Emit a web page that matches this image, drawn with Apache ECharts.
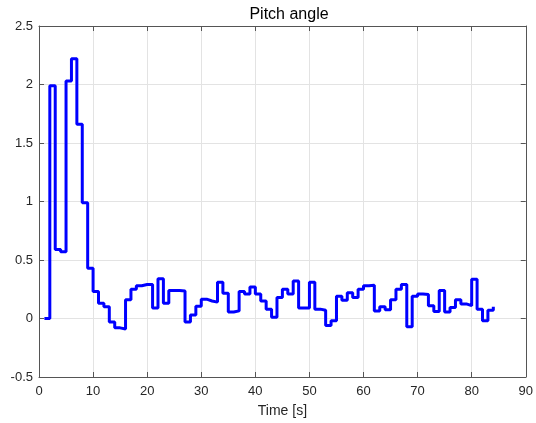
<!DOCTYPE html>
<html>
<head>
<meta charset="utf-8">
<script src="https://cdn.jsdelivr.net/npm/echarts@6/dist/echarts.min.js"></script>
<style>
html,body{margin:0;padding:0;background:#fff;}
#chart{width:536px;height:423px;}
</style>
</head>
<body>
<div id="chart"></div>
<script>
var timeSec = [1,2,3,4,5,6,7,8,9,10,11,12,13,14,15,16,17,18,19,20,
  21,22,23,24,25,26,27,28,29,30,31,32,33,34,35,36,37,38,39,40,
  41,42,43,44,45,46,47,48,49,50,51,52,53,54,55,56,57,58,59,60,
  61,62,63,64,65,66,67,68,69,70,71,72,73,74,75,76,77,78,79,80,
  81,82,83,84];
var pitch = [0,1.99,0.59,0.57,2.03,2.22,1.66,0.99,0.43,0.23,0.13,0.10,-0.03,-0.08,-0.09,0.16,0.25,0.28,0.29,0.29,
  0.09,0.34,0.13,0.24,0.24,0.235,-0.03,0.03,0.105,0.165,0.15,0.14,0.31,0.215,0.055,0.065,0.23,0.21,0.27,0.21,
  0.15,0.08,0.01,0.18,0.25,0.21,0.32,0.09,0.09,0.31,0.08,0.07,-0.06,-0.02,0.19,0.155,0.22,0.18,0.25,0.28,
  0.285,0.065,0.10,0.075,0.16,0.25,0.29,-0.07,0.19,0.21,0.205,0.11,0.06,0.24,0.055,0.095,0.16,0.125,0.11,0.335,
  0.08,-0.02,0.07,0.10];
var titleText = "Pitch angle";
var xName = "Time [s]";

var seriesData = timeSec.map(function(t, i){ return [t, pitch[i]]; });
var font = "'Liberation Sans', Arial, Helvetica, sans-serif";
var axisCol = '#555555';
var gridCol = '#e3e3e3';

var chart = echarts.init(document.getElementById('chart'), null, {renderer:'canvas'});
chart.setOption({
  animation: false,
  backgroundColor: '#ffffff',
  title: {
    text: titleText, left: 284, top: 2, textAlign: 'center',
    textStyle: {fontFamily: font, fontSize: 16, fontWeight: 'normal', color: '#000000'}
  },
  grid: {left: 39, right: 7, top: 26, bottom: 42, containLabel: false},
  xAxis: [{
    type: 'value', min: 0, max: 90, interval: 10, position: 'bottom',
    name: xName, nameLocation: 'middle', nameGap: 27,
    nameTextStyle: {fontFamily: font, fontSize: 14, color: '#262626'},
    axisLine: {show: true, onZero: false, lineStyle: {color: axisCol, width: 1}},
    axisTick: {show: true, inside: true, length: 5, lineStyle: {color: axisCol}},
    axisLabel: {fontFamily: font, fontSize: 13, color: '#262626', margin: 8},
    splitLine: {show: true, lineStyle: {color: gridCol, width: 1}}
  },{
    type: 'value', min: 0, max: 90, interval: 10, position: 'top',
    axisLine: {show: true, onZero: false, lineStyle: {color: axisCol, width: 1}},
    axisTick: {show: true, inside: true, length: 5, lineStyle: {color: axisCol}},
    axisLabel: {show: false},
    splitLine: {show: false}
  }],
  yAxis: [{
    type: 'value', min: -0.5, max: 2.5, interval: 0.5, position: 'left',
    axisLine: {show: true, onZero: false, lineStyle: {color: axisCol, width: 1}},
    axisTick: {show: true, inside: true, length: 5, lineStyle: {color: axisCol}},
    axisLabel: {fontFamily: font, fontSize: 13, color: '#262626', margin: 6},
    splitLine: {show: true, lineStyle: {color: gridCol, width: 1}}
  },{
    type: 'value', min: -0.5, max: 2.5, interval: 0.5, position: 'right',
    axisLine: {show: true, onZero: false, lineStyle: {color: axisCol, width: 1}},
    axisTick: {show: true, inside: true, length: 5, lineStyle: {color: axisCol}},
    axisLabel: {show: false},
    splitLine: {show: false}
  }],
  series: [{
    type: 'line', step: 'end', data: seriesData,
    xAxisIndex: 0, yAxisIndex: 0,
    showSymbol: false, symbol: 'none',
    lineStyle: {color: '#0000ff', width: 3},
    itemStyle: {color: '#0000ff'}
  }]
});
</script>
</body>
</html>
